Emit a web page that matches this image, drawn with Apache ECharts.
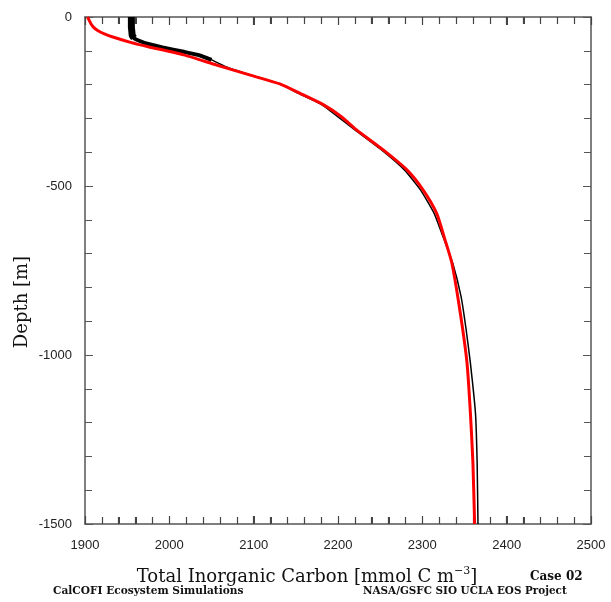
<!DOCTYPE html>
<html>
<head>
<meta charset="utf-8">
<script src="https://cdn.jsdelivr.net/npm/echarts@6/dist/echarts.min.js"></script>
<style>html,body{margin:0;padding:0;background:#fff;}#c{width:611px;height:602px;}</style>
</head>
<body>
<div id="c"></div>
<script>
// Model profile (red): depth [m] and total inorganic carbon [mmol C m-3]
const redDepth = [0, -10, -20, -30, -40, -50, -60, -75, -88, -112, -142, -172, -198, -226, -260, -295, -334, -394, -453, -512, -581, -660, -728, -876, -1024, -1172, -1320, -1500];
const redTIC   = [1903, 1905, 1907, 1910, 1915, 1923, 1934, 1954, 1975, 2017, 2056, 2096, 2131, 2155, 2183, 2204, 2222, 2254, 2282, 2301, 2317, 2327, 2335, 2345, 2353, 2357, 2360, 2362];
// Observed / reference profile (black)
const blackDepth = [0, -30, -55, -62, -68, -80, -90, -103, -112, -127, -150, -172, -198, -226, -260, -334, -394, -453, -512, -581, -660, -728, -828, -926, -1024, -1172, -1320, -1500];
const blackTIC   = [1955, 1955, 1956, 1958, 1962, 1975, 1992, 2017, 2034, 2050, 2070, 2097, 2131, 2153, 2181, 2220, 2252, 2279, 2298, 2314, 2326, 2336, 2346, 2352, 2357, 2363, 2365, 2366];
const blackThickCount = 4;   // upper mixed-layer part drawn as a thick band
const blackMidCount = 10;    // transition part drawn medium
const xTicks = [1900, 2000, 2100, 2200, 2300, 2400, 2500];
const yTicks = [0, -500, -1000, -1500];
const xMinorStep = 20;

const pair = (xs, ys) => xs.map((v, i) => [v, ys[i]]);
const redData = pair(redTIC, redDepth);
const blackData = pair(blackTIC, blackDepth);
const blackThick = blackData.slice(0, blackThickCount);
const blackMid = blackData.slice(0, blackMidCount);

const axisGray = '#555';
function xAx(pos, labels) {
  return {
    type: 'value', position: pos, min: xTicks[0], max: xTicks[xTicks.length - 1], interval: 100,
    axisLine: { show: true, onZero: false, lineStyle: { color: axisGray, width: 1.5 } },
    axisTick: { show: true, inside: true, length: 8, lineStyle: { color: '#444', width: 1.2 } },
    minorTick: { show: true, splitNumber: 5, length: 7, lineStyle: { color: '#444', width: 1.2 } },
    splitLine: { show: false },
    axisLabel: { show: labels, margin: 15, fontSize: 13, color: '#222', fontFamily: 'Liberation Sans',
      formatter: v => String(v) }
  };
}
function yAx(pos, labels) {
  return {
    type: 'value', position: pos, min: yTicks[yTicks.length - 1], max: yTicks[0], interval: 500,
    axisLine: { show: true, onZero: false, lineStyle: { color: axisGray, width: 1.5 } },
    axisTick: { show: true, inside: true, length: 8, lineStyle: { color: axisGray } },
    minorTick: { show: true, splitNumber: 5, length: 7, lineStyle: { color: axisGray } },
    splitLine: { show: false },
    axisLabel: { show: labels, margin: 13, fontSize: 13, color: '#222', fontFamily: 'Liberation Sans',
      formatter: v => String(v) }
  };
}

const texts = [
  { type: 'text', x: 22, y: 302, rotation: Math.PI / 2,
    style: { text: 'Depth [m]', font: '18px "DejaVu Serif"', fill: '#111', align: 'center', verticalAlign: 'middle' } },
  { type: 'text', x: 307, y: 577,
    style: { text: '{a|Total Inorganic Carbon [mmol C m}{s|\u22123}{a|]}', align: 'center', verticalAlign: 'middle',
      rich: { a: { font: '18px "DejaVu Serif"', fill: '#111' }, s: { font: '11px "DejaVu Serif"', fill: '#111', padding: [0, 0, 12, 0] } } } },
  { type: 'text', x: 530, y: 577,
    style: { text: 'Case 02', font: 'bold 12px "DejaVu Serif"', fill: '#111', align: 'left', verticalAlign: 'middle' } },
  { type: 'text', x: 53, y: 591,
    style: { text: 'CalCOFI Ecosystem Simulations', font: 'bold 10.6px "DejaVu Serif"', fill: '#111', align: 'left', verticalAlign: 'middle' } },
  { type: 'text', x: 363, y: 591,
    style: { text: 'NASA/GSFC SIO UCLA EOS Project', font: 'bold 10.4px "DejaVu Serif"', fill: '#111', align: 'left', verticalAlign: 'middle' } }
];

const chart = echarts.init(document.getElementById('c'));
chart.setOption({
  animation: false,
  grid: { left: 85, right: 20, top: 17, bottom: 78 },
  xAxis: [xAx('bottom', true), xAx('top', false)],
  yAxis: [yAx('left', true), yAx('right', false)],
  series: [
    { type: 'line', data: blackData, showSymbol: false, smooth: 0.15, lineStyle: { color: '#000', width: 1.5 } },
    { type: 'line', data: blackMid, showSymbol: false, smooth: 0.15, lineStyle: { color: '#000', width: 4 } },
    { type: 'line', data: blackThick, showSymbol: false, lineStyle: { color: '#000', width: 7 } },
    { type: 'line', data: redData, showSymbol: false, smooth: 0.2, lineStyle: { color: '#ff0000', width: 3 } }
  ]
});

// Inward tick marks on the top and bottom frame, placed through the axis scale
const tickLines = [];
const xMin = xTicks[0], xMax = xTicks[xTicks.length - 1];
const yBot = yTicks[yTicks.length - 1], yTop = yTicks[0];
for (let v = xMin; v <= xMax; v += xMinorStep) {
  const pb = chart.convertToPixel({ xAxisIndex: 0, yAxisIndex: 0 }, [v, yBot]);
  const pt = chart.convertToPixel({ xAxisIndex: 0, yAxisIndex: 0 }, [v, yTop]);
  const len = (v - xMin) % 100 === 0 ? 8 : 7;
  const x = Math.round(pb[0]) + 0.5;
  tickLines.push({ type: 'line', silent: true, shape: { x1: x, y1: pb[1], x2: x, y2: pb[1] - len }, style: { stroke: '#444', lineWidth: 1 } });
  tickLines.push({ type: 'line', silent: true, shape: { x1: x, y1: pt[1], x2: x, y2: pt[1] + len }, style: { stroke: '#444', lineWidth: 1 } });
}
chart.setOption({ graphic: texts.concat(tickLines) });
</script>
</body>
</html>
